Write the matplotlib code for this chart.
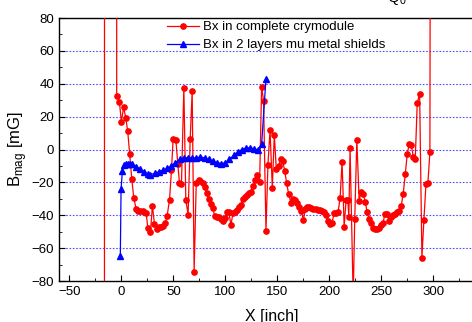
import numpy as np
import matplotlib
matplotlib.use("Agg")
import matplotlib.pyplot as plt
from matplotlib.ticker import MultipleLocator, FixedLocator

plt.rcParams['font.family'] = ['Liberation Sans', 'DejaVu Sans']
plt.rcParams['mathtext.fontset'] = 'custom'
plt.rcParams['mathtext.rm'] = 'Liberation Sans'

# Bx en el criomódulo completo (los extremos se salen de la escala)
x_rojo = [-16.5, -16.0, -4.6, -4.5, -1.9, 0.0, 2.2, 4.2, 6.1, 8.0, 10.0, 11.9, 14.1, 16.4, 18.3, 20.6,
          22.2, 23.8, 25.4, 27.9, 29.9, 31.8, 34.4, 36.6, 38.5, 40.5, 42.4, 44.0, 46.3, 48.2, 49.8,
          52.4, 54.3, 55.9, 57.8, 60.1, 62.0, 64.2, 66.2, 68.1, 70.0, 72.0, 74.2, 76.1, 78.1, 80.0,
          81.9, 84.2, 85.8, 87.7, 89.9, 92.2, 94.1, 96.0, 98.0, 99.9, 101.2, 103.4, 105.4, 107.3,
          109.2, 111.1, 113.1, 115.0, 116.9, 118.9, 120.8, 122.7, 124.6, 126.6, 128.8, 130.7, 133.0,
          134.9, 136.8, 139.1, 141.0, 143.0, 145.2, 147.1, 149.0, 151.3, 153.2, 155.2, 157.1, 159.0,
          160.9, 163.2, 165.1, 167.0, 169.0, 171.2, 173.1, 175.1, 177.0, 178.9, 180.9, 182.8, 184.7,
          187.0, 188.9, 190.8, 192.7, 194.7, 196.6, 198.8, 200.8, 202.7, 204.6, 206.6, 208.5, 210.4,
          212.3, 214.3, 216.2, 217.8, 218.8, 220.0, 223.0, 224.5, 226.5, 228.7, 230.6, 232.6, 234.5,
          236.4, 238.4, 240.3, 242.2, 244.1, 246.1, 248.0, 249.9, 251.8, 253.5, 255.4, 257.3, 259.2,
          261.2, 263.1, 265.3, 267.3, 269.2, 271.1, 273.1, 275.0, 276.9, 278.8, 280.8, 282.7, 284.6,
          286.9, 289.1, 291.0, 293.0, 294.9, 296.8, 299.0]
y_rojo = [-1000, 1000, 1000, 32.4, 29.0, 17.0, 25.8, 19.3, 11.2, -2.8, -17.8, -29.2, -35.9, -37.1, -37.1, -37.1,
          -38.1, -38.3, -47.5, -50.3, -34.1, -45.4, -48.3, -47.3, -46.8, -46.2, -44.4, -40.4, -30.6, -12.4, 6.5,
          5.9, -8.9, -20.5, -21.1, 37.7, -30.8, -39.5, 6.5, 35.5, -74.2, -20.5, -18.5, -19.1, -20.1, -22.9,
          -26.2, -30.0, -33.1, -35.5, -40.4, -40.8, -41.2, -42.2, -43.6, -41.4, -37.7, -38.1, -46.0, -38.7,
          -37.9, -36.9, -35.1, -33.5, -30.0, -28.6, -27.6, -26.6, -26.0, -22.3, -18.5, -15.2, -19.7,
          38.3, 29.6, -49.5, -9.1, 11.8, -23.3, 9.1, -11.6, -9.9, -5.9, -7.1, -12.8, -20.5,
          -27.0, -32.7, -30.2, -30.6, -32.2, -34.7, -37.3, -42.8, -36.3, -35.1, -34.7, -35.5, -36.1,
          -36.3, -36.7, -36.7, -37.1, -37.9, -39.7, -43.2, -45.2, -44.4, -38.7, -38.5, -37.9, -29.4,
          -7.5, -46.8, -30.6, -30.6, -40.8, 0.8, -90.0, -42.0, 6.1, -31.0, -26.0, -27.0, -31.6,
          -37.9, -42.4, -44.4, -47.9, -48.1, -48.5, -47.5, -46.0, -44.4, -38.9, -38.9, -43.4, -41.2,
          -39.7, -38.9, -38.1, -37.1, -34.3, -26.8, -15.0, -2.6, 3.4, 3.0, -4.3, -5.9, 28.2,
          33.9, -65.7, -43.0, -21.1, -20.1, -1.4, 1000]

# Bx con dos capas de blindaje mu-metal
x_azul = [-1.0, -0.3, 1.0, 2.9, 4.8, 6.7, 8.7, 10.6, 14.5, 18.3, 22.2, 26.0, 28.0, 32.0, 36.0, 40.0,
          44.0, 48.0, 52.0, 56.0, 60.0, 64.0, 68.0, 72.0, 76.0, 80.0, 84.0, 88.0, 92.0, 96.0, 100.0,
          104.0, 108.0, 112.0, 116.0, 120.0, 124.0, 128.0, 131.0, 134.9, 139.1]
y_azul = [-64.5, -23.9, -12.8, -9.1, -8.5, -8.5, -8.7, -8.9, -10.3, -12.0, -13.8, -15.0, -15.2, -14.5,
          -13.5, -12.5, -11.5, -10.0, -8.0, -6.0, -5.0, -5.0, -5.0, -5.0, -4.5, -5.0, -6.0, -7.0, -8.0,
          -8.5, -8.0, -6.0, -3.5, -1.5, 0.0, 1.0, 1.0, 0.5, -0.2, 3.2, 43.0]

etiquetas = ["Bx in complete crymodule", "Bx in 2 layers mu metal shields"]
ticks_x = [-50, 0, 50, 100, 150, 200, 250, 300]
grid_y = [-60, -40, -20, 0, 20, 40, 60]

fig = plt.figure(figsize=(4.72, 3.22), dpi=100)
ax = fig.add_axes([0.125, 0.127, 0.903, 0.817])

ax.plot(x_rojo, y_rojo, color="#ff0000", lw=0.9, marker="o", ms=3.8, label=etiquetas[0], zorder=3)
ax.plot(x_azul, y_azul, color="#0000ff", lw=0.9, marker="^", ms=3.8, label=etiquetas[1], zorder=4)

ax.set_xlim(-60, 350)
ax.set_ylim(-80, 80)
ax.xaxis.set_major_locator(FixedLocator(ticks_x))
ax.xaxis.set_minor_locator(MultipleLocator(25))
ax.yaxis.set_major_locator(MultipleLocator(20))
ax.yaxis.set_minor_locator(MultipleLocator(10))
ax.tick_params(which="both", direction="in", top=False, right=False, labelsize=9.5)
ax.tick_params(which="major", length=4)
ax.tick_params(which="minor", length=2.5)
for s in ax.spines.values():
    s.set_linewidth(1.0)

for v in grid_y:
    ax.axhline(v, color="#5050ff", lw=0.8, ls=(0, (1.5, 1.5)), zorder=1)

ax.set_xlabel("X [inch]", fontsize=11.5, labelpad=8)
ax.set_ylabel("B$_\\mathrm{mag}$ [mG]", fontsize=12, labelpad=2)

ax.legend(loc="upper left", bbox_to_anchor=(0.34, 0.955), bbox_transform=fig.transFigure,
          frameon=False, fontsize=9.5, handlelength=2.4, handletextpad=0.35,
          borderpad=0, labelspacing=0.45)

fig.text(0.82, 0.993, "Q$_\\mathrm{0}$", fontsize=11, va="baseline", ha="left")

fig.savefig("out.png", dpi=100)
